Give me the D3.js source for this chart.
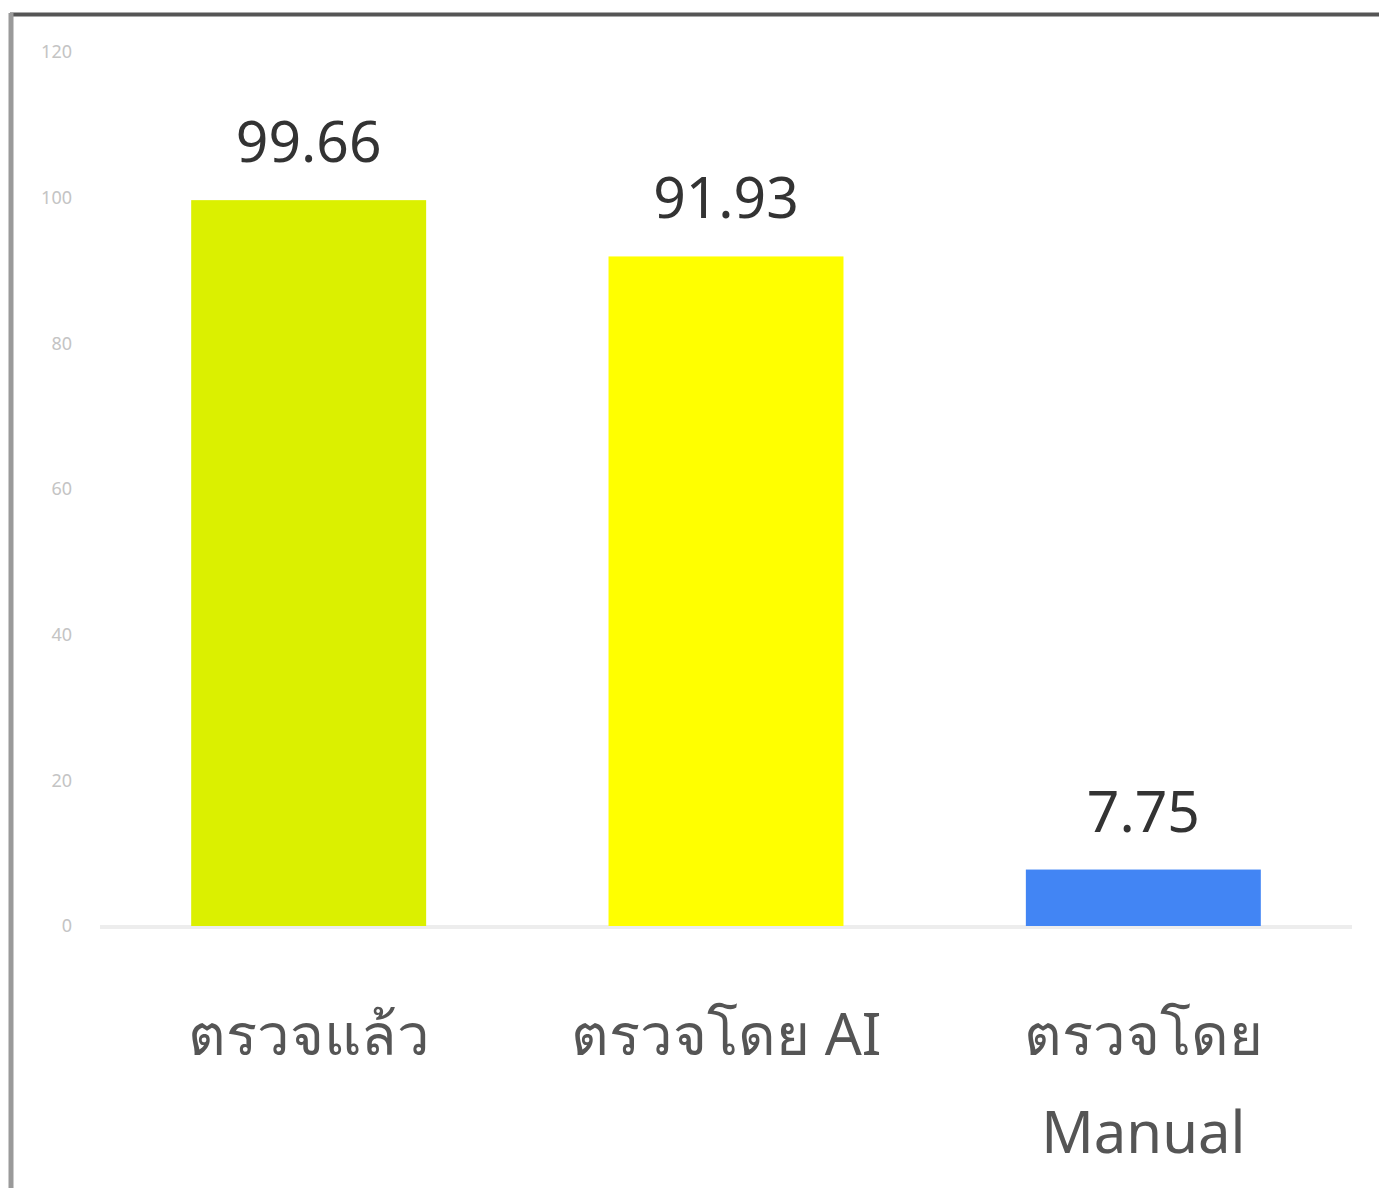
<!DOCTYPE html>
<html>
<head>
<meta charset="utf-8">
<script src="https://cdn.jsdelivr.net/npm/d3@7"></script>
<style>
  body { margin: 0; background: #fff; }
  svg { display: block; }
</style>
</head>
<body>
<svg></svg>
<script>
const svgWidth = 1379;
const svgHeight = 1188;

// data
const categories = ["ตรวจแล้ว", "ตรวจโดย AI", "ตรวจโดย|Manual"];
const values = [99.66, 91.93, 7.75];
const barColors = ["#dbf000", "#ffff00", "#4285f4"];
const yTicks = [0, 20, 40, 60, 80, 100, 120];

const svg = d3.select("svg")
  .attr("width", svgWidth)
  .attr("height", svgHeight);

// frame of the screenshot
svg.append("line")
  .attr("x1", 10).attr("x2", svgWidth)
  .attr("y1", 14.5).attr("y2", 14.5)
  .attr("stroke", "#555").attr("stroke-width", 4);
svg.append("line")
  .attr("x1", 11).attr("x2", 11)
  .attr("y1", 13).attr("y2", svgHeight)
  .attr("stroke", "#9a9a9a").attr("stroke-width", 5);

const x = d3.scaleBand()
  .domain(categories)
  .range([100, 1352])
  .paddingInner(0.437)
  .paddingOuter(0.2185);

const y = d3.scaleLinear()
  .domain([0, 120])
  .range([926, 52]);

// y axis labels (no line)
const yAxis = d3.axisLeft(y).tickValues(yTicks).tickSize(0).tickPadding(0);
const gy = svg.append("g")
  .attr("transform", "translate(72,0)")
  .call(yAxis);
gy.select(".domain").remove();
gy.selectAll("text")
  .attr("fill", "#c4c4c4")
  .style("font-family", "Noto Sans, sans-serif")
  .style("font-size", "18px");

// baseline
svg.append("line")
  .attr("x1", 100).attr("x2", 1352)
  .attr("y1", y(0) + 1).attr("y2", y(0) + 1)
  .attr("stroke", "#ededed").attr("stroke-width", 4);

// bars
svg.selectAll("rect.bar")
  .data(values)
  .enter()
  .append("rect")
  .attr("class", "bar")
  .attr("x", (d, i) => x(categories[i]))
  .attr("y", d => y(d))
  .attr("width", x.bandwidth())
  .attr("height", d => y(0) - y(d))
  .attr("fill", (d, i) => barColors[i]);

// value labels
svg.selectAll("text.val")
  .data(values)
  .enter()
  .append("text")
  .attr("class", "val")
  .attr("x", (d, i) => x(categories[i]) + x.bandwidth() / 2)
  .attr("y", d => y(d) - 38)
  .attr("text-anchor", "middle")
  .attr("fill", "#333")
  .style("font-family", "Noto Sans, sans-serif")
  .style("font-size", "57px")
  .text(d => d);

// category labels
const xAxis = d3.axisBottom(x).tickSize(0).tickPadding(0);
const gx = svg.append("g")
  .attr("transform", "translate(0,1055)")
  .call(xAxis);
gx.select(".domain").remove();
gx.selectAll("text").remove();
gx.selectAll(".tick").each(function(d) {
  const t = d3.select(this).append("text")
    .attr("text-anchor", "middle")
    .attr("fill", "#555")
    .style("font-family", "Noto Sans, sans-serif")
    .style("font-size", "58px");
  d.split("|").forEach((part, i) => {
    t.append("tspan").attr("x", 0).attr("y", i * 98).text(part);
  });
});
</script>
</body>
</html>
